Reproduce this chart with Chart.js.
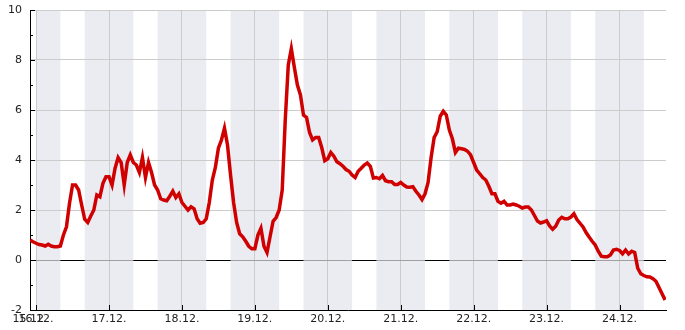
<!doctype html>
<html lang="de">
  <head>
    <meta charset="UTF-8" />
    <title>Temperaturverlauf</title>
    <script src="https://cdn.jsdelivr.net/npm/chart.js"></script>
    <style>
      body {
        margin: 0;
        background: #ffffff;
      }
      #wrap {
        width: 685px;
        height: 330px;
        position: relative;
      }
    </style>
  </head>
  <body>
    <div id="wrap"><canvas id="tempChart"></canvas></div>

    <script>
      // Stunden seit 15.12. 00:00, erster Messwert um 22:00
      const startHour = 22;
      // stündliche Werte
      const temps = [
        0.8, 0.73, 0.67, 0.62, 0.6, 0.56, 0.63, 0.56, 0.53, 0.53,
        0.56, 1.0, 1.33, 2.27, 3.0, 3.0, 2.8, 2.2, 1.63, 1.5,
        1.76, 2.0, 2.6, 2.53, 3.07, 3.33, 3.33, 3.0, 3.67, 4.1,
        3.9, 3.0, 3.9, 4.2, 3.9, 3.8, 3.5, 4.1, 3.3, 3.9,
        3.5, 3.0, 2.8, 2.45, 2.4, 2.37, 2.55, 2.75, 2.5, 2.65,
        2.3, 2.15, 2.0, 2.13, 2.05, 1.65, 1.47, 1.5, 1.65, 2.3,
        3.2, 3.7, 4.47, 4.8, 5.27, 4.6, 3.4, 2.3, 1.5, 1.05,
        0.93, 0.75, 0.55, 0.45, 0.45, 1.0, 1.27, 0.55, 0.3, 0.93,
        1.55, 1.7, 2.0, 2.8, 5.6, 7.8, 8.45, 7.7, 7.0, 6.6,
        5.8, 5.7, 5.1, 4.8, 4.9, 4.9, 4.5, 3.97, 4.05, 4.3,
        4.15, 3.93, 3.85, 3.75, 3.62, 3.55, 3.4, 3.3, 3.55, 3.67,
        3.8, 3.88, 3.75, 3.28, 3.3, 3.25, 3.38, 3.17, 3.13, 3.13,
        3.02, 3.02, 3.1, 3.0, 2.92, 2.91, 2.93, 2.75, 2.6, 2.42,
        2.65, 3.1, 4.1, 4.9, 5.13, 5.75, 5.95, 5.8, 5.2, 4.85,
        4.3, 4.47, 4.45, 4.42, 4.35, 4.2, 3.9, 3.6, 3.45, 3.3,
        3.2, 2.95, 2.65, 2.65, 2.35, 2.27, 2.35, 2.2, 2.2, 2.24,
        2.2, 2.15, 2.08, 2.12, 2.12, 2.0, 1.78, 1.56, 1.48, 1.52,
        1.57, 1.36, 1.23, 1.35, 1.6, 1.71, 1.65, 1.65, 1.72, 1.85,
        1.62, 1.47, 1.32, 1.1, 0.92, 0.75, 0.6, 0.35, 0.15, 0.13,
        0.13, 0.2, 0.4, 0.43, 0.38, 0.25, 0.4, 0.24, 0.35, 0.3,
        -0.33, -0.55, -0.62, -0.67, -0.68, -0.75, -0.85, -1.1, -1.35, -1.6,
      ];

      // Achse: Tage (Mitternacht) und Beschriftung
      const tickHours = [22, 24, 48, 72, 96, 120, 144, 168, 192, 216];
      const tickLabels = ["15.12.", "16.12.", "17.12.", "18.12.", "19.12.", "20.12.", "21.12.", "22.12.", "23.12.", "24.12."];
      // Nachtstunden (16:00 - 08:00), grau hinterlegt
      const nightFrom = [24, 40, 64, 88, 112, 136, 160, 184, 208];
      const nightTo = [32, 56, 80, 104, 128, 152, 176, 200, 224];

      const xMin = 22;
      const xMax = 231.3;

      const points = temps.map((t, i) => ({ x: startHour + i, y: t }));

      Chart.defaults.font.family = "'DejaVu Sans', sans-serif";
      Chart.defaults.font.size = 11;
      Chart.defaults.color = "#222";

      // Hintergrundstreifen für die Nacht
      const nightBands = {
        id: "nightBands",
        beforeDraw(chart) {
          const { ctx, chartArea, scales } = chart;
          ctx.save();
          ctx.fillStyle = "#ebecf2";
          nightFrom.forEach((from, i) => {
            const a = Math.max(scales.x.getPixelForValue(from), chartArea.left);
            const b = Math.min(scales.x.getPixelForValue(nightTo[i]), chartArea.right);
            if (b > a) ctx.fillRect(a, chartArea.top, b - a, chartArea.bottom - chartArea.top);
          });
          ctx.restore();
        },
        beforeDatasetsDraw(chart) {
          const { ctx, chartArea, scales } = chart;
          const y0 = Math.round(scales.y.getPixelForValue(0)) + 0.5;
          ctx.save();
          ctx.strokeStyle = "#000";
          ctx.lineWidth = 1;
          // Nulllinie schwarz nur ausserhalb der Nachtstreifen
          let pos = chartArea.left;
          const edges = nightFrom.map((f, i) => [scales.x.getPixelForValue(f), scales.x.getPixelForValue(nightTo[i])]);
          ctx.beginPath();
          edges.forEach(([a, b]) => {
            if (a > pos) {
              ctx.moveTo(pos, y0);
              ctx.lineTo(a, y0);
            }
            pos = Math.max(pos, b);
          });
          if (pos < chartArea.right) {
            ctx.moveTo(pos, y0);
            ctx.lineTo(chartArea.right, y0);
          }
          ctx.stroke();

          // Teilstriche nach innen
          ctx.beginPath();
          for (let v = -2; v <= 10; v++) {
            const y = Math.round(scales.y.getPixelForValue(v)) + 0.5;
            const len = v % 2 === 0 ? 5 : 3;
            ctx.moveTo(chartArea.left, y);
            ctx.lineTo(chartArea.left + len, y);
          }
          tickHours.slice(1).forEach((h) => {
            const x = Math.round(scales.x.getPixelForValue(h)) + 0.5;
            ctx.moveTo(x, chartArea.bottom);
            ctx.lineTo(x, chartArea.bottom - 5);
          });
          ctx.stroke();
          ctx.restore();
        },
      };

      const ctx = document.getElementById("tempChart").getContext("2d");
      new Chart(ctx, {
        type: "line",
        data: {
          datasets: [
            {
              data: points,
              borderColor: "#d00000",
              borderWidth: 3.5,
              pointRadius: 0,
              tension: 0,
              fill: false,
            },
          ],
        },
        options: {
          responsive: true,
          maintainAspectRatio: false,
          animation: false,
          events: [],
          layout: { padding: { top: 10, right: 19, left: 0, bottom: 0 } },
          plugins: {
            legend: { display: false },
            tooltip: { enabled: false },
          },
          scales: {
            x: {
              type: "linear",
              min: xMin,
              max: xMax,
              afterBuildTicks: (scale) => {
                scale.ticks = tickHours.map((v) => ({ value: v }));
              },
              afterFit: (scale) => {
                scale.height = 20;
                scale.paddingLeft = 0;
                scale.paddingRight = 0;
              },
              ticks: {
                autoSkip: false,
                maxRotation: 0,
                padding: 3,
                callback: (value) => tickLabels[tickHours.indexOf(value)],
              },
              grid: { color: "#cccccc", drawTicks: false },
              border: { color: "#000" },
            },
            y: {
              min: -2,
              max: 10,
              afterFit: (scale) => {
                scale.width = 30;
                scale.paddingTop = 0;
                scale.paddingBottom = 0;
              },
              ticks: { stepSize: 2, padding: 8 },
              grid: {
                drawTicks: false,
                color: (c) => (c.tick && c.tick.value === 0 ? "#a0a0a0" : "#cccccc"),
              },
              border: { color: "#000" },
            },
          },
        },
        plugins: [nightBands],
      });
    </script>
  </body>
</html>
